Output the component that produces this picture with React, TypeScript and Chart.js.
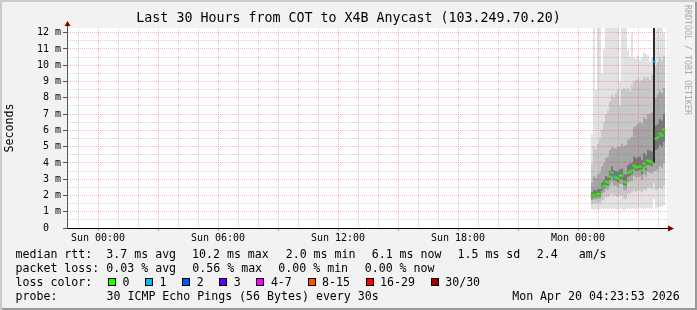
import React, { useEffect, useRef } from 'react';
import { Chart, registerables } from 'chart.js';

Chart.register(...registerables);

const MONO = "'DejaVu Sans Mono', monospace";

const titleText = 'Last 30 Hours from COT to X4B Anycast (103.249.70.20)';
const yAxisTitle = 'Seconds';
const sideText = 'RRDTOOL / TOBI OETIKER';

// time axis in hours relative to Sun 00:00
const xMinHour = -1.55;
const xMaxHour = 28.45;
const xTickHours = [0, 6, 12, 18, 24];
const xTickLabels = ['Sun 00:00', 'Sun 06:00', 'Sun 12:00', 'Sun 18:00', 'Mon 00:00'];

const yMaxMs = 12.29;
const yTickValues = [0, 1, 2, 3, 4, 5, 6, 7, 8, 9, 10, 11, 12];
const yTickLabels = ['0  ', '1 m', '2 m', '3 m', '4 m', '5 m', '6 m', '7 m', '8 m', '9 m', '10 m', '11 m', '12 m'];

// one column per 6 minutes (hours since Sun 00:00)
const columnHours = [
  24.7, 24.8, 24.9, 25.0, 25.1, 25.2, 25.3, 25.4, 25.5, 25.6,
  25.7, 25.8, 25.9, 26.0, 26.1, 26.2, 26.3, 26.4, 26.5, 26.6,
  26.7, 26.8, 26.9, 27.0, 27.1, 27.2, 27.3, 27.4, 27.5, 27.6,
  27.7, 27.8, 27.9, 28.0, 28.1, 28.2, 28.3,
];
const medianMs = [
  1.97, 2.05, 1.99, 2.11, 2.05, 2.48, 2.60, 2.85, 2.79, 3.16,
  3.40, 3.16, 3.10, 3.03, 3.22, 3.22, 2.85, 2.79, 3.40, 3.46,
  3.53, 3.83, 3.71, 3.77, 3.77, 3.53, 3.96, 3.77, 4.14, 4.08,
  4.02, 10.23, 5.50, 5.56, 5.80, 5.68, 6.05,
];
const lossCounts = [
  0, 0, 0, 0, 0, 0, 0, 0, 0, 0,
  0, 1, 0, 0, 0, 0, 0, 0, 0, 0,
  0, 0, 0, 0, 0, 0, 0, 0, 0, 0,
  0, 1, 0, 0, 0, 0, 0,
];
const smokeMin = [
  1.15, 1.1, 1.15, 1.1, 1.15, 1.2, 1.15, 1.2, 1.15, 1.2,
  1.15, 1.2, 1.15, 1.1, 1.2, 1.15, 1.1, 1.15, 1.2, 1.15,
  1.2, 1.2, 1.15, 1.2, 1.25, 1.2, 1.15, 1.2, 1.25, 1.2,
  1.2, 1.8, 1.2, 1.25, 1.3, 1.3, 1.4,
];
const smokeLo = [
  1.45, 1.5, 1.5, 1.55, 1.5, 1.7, 1.75, 1.9, 1.9, 2.0,
  2.1, 2.0, 2.0, 1.9, 2.0, 2.0, 1.8, 1.8, 2.1, 2.1,
  2.2, 2.3, 2.2, 2.3, 2.3, 2.2, 2.4, 2.3, 2.5, 2.5,
  2.4, 2.8, 2.3, 2.4, 2.5, 2.4, 2.6,
];
const smokeQ1 = [
  1.7, 1.75, 1.75, 1.8, 1.8, 2.1, 2.2, 2.4, 2.35, 2.6,
  2.8, 2.6, 2.6, 2.5, 2.7, 2.7, 2.35, 2.3, 2.8, 2.85,
  2.9, 3.2, 3.1, 3.15, 3.15, 2.95, 3.3, 3.15, 3.45, 3.4,
  3.35, 3.5, 3.5, 3.6, 3.8, 3.7, 4.0,
];
const smokeCoreLo = [
  1.82, 1.9, 1.88, 1.95, 1.92, 2.3, 2.42, 2.65, 2.6, 2.95,
  3.15, 2.95, 2.9, 2.8, 3.0, 3.0, 2.65, 2.6, 3.15, 3.2,
  3.3, 3.6, 3.5, 3.55, 3.55, 3.3, 3.75, 3.55, 3.9, 3.85,
  3.8, 4.0, 4.8, 4.9, 5.1, 5.0, 5.3,
];
const smokeCoreHi = [
  2.2, 2.35, 2.3, 2.4, 2.4, 2.8, 2.95, 3.2, 3.15, 3.5,
  3.8, 3.55, 3.5, 3.45, 3.6, 3.65, 3.3, 3.3, 3.85, 3.95,
  4.0, 4.4, 4.3, 4.35, 4.4, 4.2, 4.6, 4.45, 4.8, 4.75,
  4.7, 13.0, 6.3, 6.4, 6.7, 6.6, 7.0,
];
const smokeQ3 = [
  2.8, 3.2, 3.1, 3.3, 3.4, 3.8, 4.0, 4.3, 4.4, 4.8,
  5.0, 4.9, 4.9, 5.0, 5.0, 5.2, 5.0, 5.1, 5.4, 5.5,
  5.6, 6.2, 6.3, 6.4, 6.5, 6.4, 6.8, 6.7, 7.0, 7.0,
  7.1, 13.0, 8.0, 8.2, 8.4, 8.3, 8.6,
];
const smokeHi = [
  3.9, 5.0, 4.8, 5.2, 5.5, 6.0, 6.5, 7.0, 7.2, 7.8,
  8.2, 8.0, 8.3, 8.5, 7.5, 8.5, 8.6, 8.5, 8.6, 8.4,
  8.8, 9.0, 9.1, 9.2, 9.0, 9.1, 9.3, 9.2, 9.3, 9.1,
  9.4, 13.0, 10.0, 10.2, 10.5, 10.3, 10.6,
];
const smokeMax = [
  5.8, 13.0, 8.5, 13.0, 13.0, 9.5, 11.0, 13.0, 13.0, 13.0,
  13.0, 13.0, 13.0, 13.0, 9.0, 13.0, 13.0, 13.0, 10.9, 10.5,
  12.0, 10.5, 10.4, 10.6, 10.3, 10.5, 10.8, 10.7, 10.6, 10.2,
  10.5, 13.0, 12.2, 13.0, 12.5, 13.0, 12.0,
];

const lossLabels = ['0', '1', '2', '3', '4-7', '8-15', '16-29', '30/30'];
const lossThresholds = [0, 1, 2, 3, 4, 8, 16, 30];
const lossColors = ['#26ff00', '#00b8ff', '#0059ff', '#5e00ff', '#ff00ff', '#ff5500', '#ff0000', '#a00000'];

const medianRttItems = ['3.7 ms avg', '10.2 ms max', '2.0 ms min', '6.1 ms now', '1.5 ms sd', '2.4   am/s'];
const packetLossItems = ['0.03 % avg', '0.56 % max', '0.00 % min', '0.00 % now'];
const probeText = '30 ICMP Echo Pings (56 Bytes) every 30s';
const dateText = 'Mon Apr 20 04:23:53 2026';

// layout (styles only)
const rttItemX = [106.3, 192, 285.7, 371.7, 457.5, 536.8];
const lossItemX = [106.3, 192.3, 278.3, 364.7];
const rowTops = [247.3, 261.2, 275, 288.8];

const MAJOR_GRID = 'rgba(255,0,0,0.28)';
const MINOR_GRID = 'rgba(110,110,110,0.3)';

function lossColorFor(n: number): string {
  let idx = 0;
  for (let i = 0; i < lossThresholds.length; i++) if (n >= lossThresholds[i]) idx = i;
  return lossColors[idx];
}

function band(label: string, lo: number[], hi: number[], color: any) {
  return {
    type: 'bar' as const,
    label,
    data: columnHours.map((h, i) => ({ x: h, y: [lo[i], hi[i]] })),
    backgroundColor: color,
    borderWidth: 0,
    borderSkipped: false,
    inflateAmount: 0,
    barPercentage: 1,
    categoryPercentage: 1,
    grouped: false,
    xAxisID: 'x',
    yAxisID: 'y',
  };
}

const framePlugin = {
  id: 'rrdFrame',
  beforeDraw(chart: any) {
    const { ctx, chartArea: a } = chart;
    ctx.save();
    ctx.fillStyle = '#ffffff';
    ctx.fillRect(a.left, a.top, a.right - a.left, a.bottom - a.top);
    ctx.restore();
  },
  afterDraw(chart: any) {
    const { ctx, chartArea: a } = chart;
    ctx.save();
    ctx.strokeStyle = '#555';
    ctx.lineWidth = 1;
    ctx.beginPath();
    ctx.moveTo(a.left + 0.5, a.top);
    ctx.lineTo(a.left + 0.5, a.top - 3);
    ctx.stroke();
    ctx.strokeStyle = '#000';
    ctx.beginPath();
    ctx.moveTo(a.right, a.bottom + 0.5);
    ctx.lineTo(a.right + 2, a.bottom + 0.5);
    ctx.stroke();
    ctx.fillStyle = '#800000';
    ctx.beginPath();
    ctx.moveTo(a.left + 0.5 - 3, a.top - 2);
    ctx.lineTo(a.left + 0.5 + 3, a.top - 2);
    ctx.lineTo(a.left + 0.5, a.top - 7);
    ctx.closePath();
    ctx.fill();
    ctx.beginPath();
    ctx.moveTo(a.right + 1, a.bottom + 0.5 - 3);
    ctx.lineTo(a.right + 1, a.bottom + 0.5 + 3);
    ctx.lineTo(a.right + 7, a.bottom + 0.5);
    ctx.closePath();
    ctx.fill();
    ctx.restore();
  },
};

export default function App() {
  const ref = useRef<HTMLCanvasElement>(null);

  useEffect(() => {
    if (!ref.current) return;
    Chart.defaults.font.family = MONO;
    const medianDataset = {
      type: 'line' as const,
      label: 'median',
      data: columnHours.map((h, i) => ({ x: h, y: medianMs[i] })),
      showLine: false,
      pointStyle: 'line',
      pointRadius: 1.5,
      pointBorderWidth: 2,
      pointBorderColor: lossCounts.map((n) => lossColorFor(n)),
      pointBackgroundColor: lossCounts.map((n) => lossColorFor(n)),
      xAxisID: 'x',
      yAxisID: 'y',
    };
    const chart = new Chart(ref.current, {
      type: 'bar',
      data: {
        datasets: [
          medianDataset as any,
          band('core', smokeCoreLo, smokeCoreHi, (c: any) => {
            const r = c.raw;
            return r && r.y[1] - r.y[0] > 5 ? '#2a2a2a' : '#787878';
          }),
          band('quartiles', smokeQ1, smokeQ3, '#a6a6a6'),
          band('deciles', smokeLo, smokeHi, '#c8c8c8'),
          band('range', smokeMin, smokeMax, '#e2e2e2'),
        ],
      },
      options: {
        responsive: false,
        animation: false,
        devicePixelRatio: 1,
        events: [],
        layout: { padding: 0 },
        plugins: {
          legend: { display: false },
          tooltip: { enabled: false },
          title: {
            display: true,
            text: titleText,
            color: '#000',
            font: { family: MONO, size: 13.3, weight: 'normal', lineHeight: 1.2 },
            padding: { top: 11, bottom: 1.04 },
          },
        },
        scales: {
          x: {
            type: 'linear',
            min: xMinHour,
            max: xMaxHour,
            offset: false,
            afterBuildTicks: (s: any) => {
              const t = [];
              for (let h = -1; h <= 28; h++) t.push({ value: h });
              s.ticks = t;
            },
            afterFit: (s: any) => {
              s.height = 82;
            },
            ticks: {
              autoSkip: false,
              maxRotation: 0,
              minRotation: 0,
              padding: 1,
              color: '#000',
              font: { family: MONO, size: 10 },
              callback: (v: any) => {
                const i = xTickHours.indexOf(Number(v));
                return i >= 0 ? xTickLabels[i] : '';
              },
            },
            grid: {
              z: 1,
              offset: false,
              lineWidth: 1,
              drawTicks: true,
              tickLength: 3,
              color: (c: any) => (c.tick && c.tick.value % 3 === 0 ? MAJOR_GRID : MINOR_GRID),
              tickColor: (c: any) => (c.tick && c.tick.value % 3 === 0 ? 'rgba(255,0,0,0.5)' : 'transparent'),
            },
            border: { display: true, color: '#000', width: 1, dash: [1, 1], z: 2 },
          } as any,
          y: {
            type: 'linear',
            position: 'left',
            min: 0,
            max: yMaxMs,
            afterBuildTicks: (s: any) => {
              const t = [];
              for (let v = 0; v <= 12; v += 0.5) t.push({ value: v });
              s.ticks = t;
            },
            afterFit: (s: any) => {
              s.width = 67;
            },
            title: {
              display: true,
              text: yAxisTitle,
              color: '#000',
              font: { family: MONO, size: 11.6 },
              padding: { top: 3, bottom: 0 },
            },
            ticks: {
              autoSkip: false,
              padding: 2,
              color: '#000',
              font: { family: MONO, size: 10 },
              callback: (v: any) => {
                const i = yTickValues.indexOf(Number(v));
                return i >= 0 ? yTickLabels[i] : '';
              },
            },
            grid: {
              z: 1,
              lineWidth: 1,
              drawTicks: true,
              tickLength: 4,
              color: (c: any) => {
                const v = c.tick ? c.tick.value : 0;
                if (v === 0) return 'transparent';
                return Number.isInteger(v) ? MAJOR_GRID : MINOR_GRID;
              },
              tickColor: (c: any) => (c.tick && Number.isInteger(c.tick.value) ? '#555' : 'transparent'),
            },
            border: { display: true, color: '#555', width: 1, dash: [1, 1], z: 2 },
          } as any,
          y2: {
            type: 'linear',
            position: 'right',
            display: true,
            grid: { display: false, drawTicks: false },
            border: { display: false },
            ticks: { display: false },
            afterFit: (s: any) => {
              s.width = 30;
            },
          } as any,
        },
      },
      plugins: [framePlugin],
    });
    return () => chart.destroy();
  }, []);

  const textStyle = (left: number, top: number): React.CSSProperties => ({
    position: 'absolute',
    left,
    top,
    whiteSpace: 'pre',
    lineHeight: '14px',
    fontSize: 11.6,
  });

  const lossLegend: React.ReactNode[] = [];
  let lx = 108;
  lossLabels.forEach((lab, i) => {
    lossLegend.push(
      <div
        key={'b' + i}
        style={{
          position: 'absolute',
          left: lx,
          top: 278,
          width: 8,
          height: 8,
          boxSizing: 'border-box',
          border: '1px solid #000',
          background: lossColors[i],
        }}
      />
    );
    lossLegend.push(
      <span key={'l' + i} style={textStyle(lx + 14.5, rowTops[2])}>
        {lab}
      </span>
    );
    lx = lx + 14.5 + 7 * lab.length + 15.6;
  });

  return (
    <div
      style={{
        position: 'fixed',
        left: 0,
        top: 0,
        width: 697,
        height: 310,
        overflow: 'hidden',
        background: '#f2f2f2',
        boxShadow: 'inset 2px 2px 0 #cbcbcb, inset -2px -2px 0 #999999',
        fontFamily: MONO,
        color: '#000',
      }}
    >
      <canvas
        ref={ref}
        width={697}
        height={310}
        style={{ position: 'absolute', left: 0, top: 0, width: 697, height: 310 }}
      />
      <div
        style={{
          position: 'absolute',
          left: 683.3,
          top: 5,
          writingMode: 'vertical-rl',
          fontSize: 8.3,
          lineHeight: '10px',
          color: '#a9a9a9',
          whiteSpace: 'pre',
        }}
      >
        {sideText}
      </div>
      <span style={textStyle(15.5, rowTops[0])}>median rtt:</span>
      {medianRttItems.map((t, i) => (
        <span key={'r' + i} style={textStyle(rttItemX[i], rowTops[0])}>
          {t}
        </span>
      ))}
      <span style={textStyle(15.5, rowTops[1])}>packet loss:</span>
      {packetLossItems.map((t, i) => (
        <span key={'p' + i} style={textStyle(lossItemX[i], rowTops[1])}>
          {t}
        </span>
      ))}
      <span style={textStyle(15.5, rowTops[2])}>loss color:</span>
      {lossLegend}
      <span style={textStyle(15.5, rowTops[3])}>probe:</span>
      <span style={textStyle(106.5, rowTops[3])}>{probeText}</span>
      <span style={textStyle(512.2, rowTops[3])}>{dateText}</span>
    </div>
  );
}
